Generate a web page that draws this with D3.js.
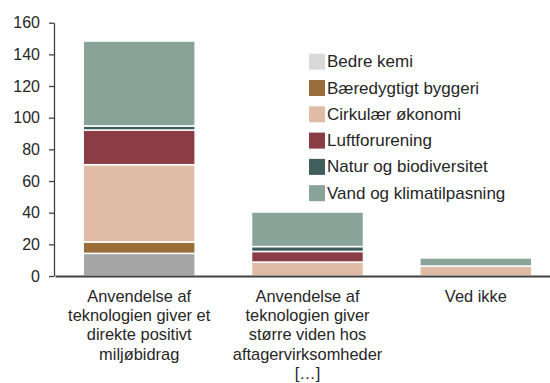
<!DOCTYPE html>
<html>
<head>
<meta charset="utf-8">
<script src="https://cdn.jsdelivr.net/npm/d3@7/dist/d3.min.js"></script>
<style>
  html, body { margin: 0; padding: 0; background: #fff; }
  svg { display: block; font-family: "Liberation Sans", Arial, sans-serif; }
</style>
</head>
<body>
<svg id="chart" width="550" height="383"></svg>
<script>
// Categories (x axis) and one value array per stacked series
const categories = [
  "Anvendelse af teknologien giver et direkte positivt miljøbidrag",
  "Anvendelse af teknologien giver større viden hos aftagervirksomheder […]",
  "Ved ikke"
];
const seriesNames = [
  "Bedre kemi",
  "Bæredygtigt byggeri",
  "Cirkulær økonomi",
  "Luftforurening",
  "Natur og biodiversitet",
  "Vand og klimatilpasning"
];
const bedreKemi        = [14.3, 0, 0];
const baeredygtigt     = [7.2, 0, 0];
const cirkulaer        = [48.8, 8.8, 6.3];
const luftforurening   = [21.9, 6.7, 0];
const naturBiodiv      = [2.6, 3.1, 0];
const vandKlima        = [53.6, 21.8, 5.1];
const yTicks = [0, 20, 40, 60, 80, 100, 120, 140, 160];

// Fill colours, in series order
const barColors    = ["#a6a6a6", "#9a6e3a", "#e0bba5", "#8b3d46", "#3f5e5c", "#8aa399"];
const legendColors = ["#d9d9d9", "#9a6e3a", "#e0bba5", "#8b3d46", "#3f5e5c", "#8aa399"];

const seriesValues = [bedreKemi, baeredygtigt, cirkulaer, luftforurening, naturBiodiv, vandKlima];
const table = categories.map((c, i) => {
  const row = { category: c };
  seriesNames.forEach((s, j) => { row[s] = seriesValues[j][i]; });
  return row;
});

const svg = d3.select("#chart");
const textColor = "#262626";
const axisColor = "#404040";

const x = d3.scaleBand()
  .domain(categories)
  .range([55, 560])
  .paddingInner(0.335)
  .paddingOuter(0.1675);

const y = d3.scaleLinear()
  .domain([0, 160])
  .range([276, 22.7]);

const stacked = d3.stack().keys(seriesNames)(table);

// Stacked bars, separated by thin white outlines
svg.append("g")
  .selectAll("g")
  .data(stacked)
  .join("g")
    .attr("fill", (d, i) => barColors[i])
  .selectAll("rect")
  .data(d => d.filter(p => p[1] - p[0] > 0))
  .join("rect")
    .attr("x", d => x(d.data.category))
    .attr("width", x.bandwidth())
    .attr("y", d => y(d[1]))
    .attr("height", d => y(d[0]) - y(d[1]))
    .attr("stroke", "#fff")
    .attr("stroke-width", 1.5);

// Y axis
const yAxis = svg.append("g")
  .attr("transform", "translate(54,0)")
  .call(d3.axisLeft(y).tickValues(yTicks).tickSize(5).tickSizeOuter(0).tickPadding(9));
yAxis.select(".domain").attr("stroke", axisColor).attr("stroke-width", 1.3);
yAxis.selectAll(".tick line").attr("stroke", axisColor).attr("stroke-width", 1.3);
yAxis.selectAll(".tick text")
  .attr("fill", textColor)
  .style("font-size", "16px")
  .style("font-family", "'Liberation Sans', Arial, sans-serif");

// X axis with wrapped category labels
const xAxis = svg.append("g")
  .attr("transform", "translate(0,276)")
  .call(d3.axisBottom(x).tickSize(0).tickSizeOuter(0).tickPadding(14));
xAxis.select(".domain").attr("stroke", axisColor).attr("stroke-width", 2);
xAxis.selectAll(".tick text")
  .attr("fill", textColor)
  .style("font-size", "16.4px")
  .style("font-family", "'Liberation Sans', Arial, sans-serif")
  .call(wrap, 156, 19.3);

// Breaks a label into lines no wider than `width`
function wrap(texts, width, lineHeight) {
  texts.each(function () {
    const text = d3.select(this);
    const words = text.text().split(/\s+/);
    const yPos = +text.attr("y");
    const dy = text.attr("dy");
    text.text(null);
    let line = [];
    let lineNo = 0;
    let tspan = text.append("tspan").attr("x", 0).attr("y", yPos).attr("dy", dy);
    words.forEach(w => {
      line.push(w);
      tspan.text(line.join(" "));
      if (tspan.node().getComputedTextLength() > width && line.length > 1) {
        line.pop();
        tspan.text(line.join(" "));
        line = [w];
        lineNo++;
        tspan = text.append("tspan")
          .attr("x", 0)
          .attr("y", yPos + lineNo * lineHeight)
          .attr("dy", dy)
          .text(w);
      }
    });
  });
}

// Legend
const legend = svg.append("g")
  .selectAll("g")
  .data(seriesNames)
  .join("g")
    .attr("transform", (d, i) => `translate(309,${53.7 + i * 26.3})`);
legend.append("rect")
  .attr("width", 16)
  .attr("height", 16)
  .attr("fill", (d, i) => legendColors[i]);
legend.append("text")
  .attr("x", 18)
  .attr("y", 8)
  .attr("dominant-baseline", "central")
  .attr("fill", textColor)
  .style("font-size", "17px")
  .text(d => d);
</script>
</body>
</html>
